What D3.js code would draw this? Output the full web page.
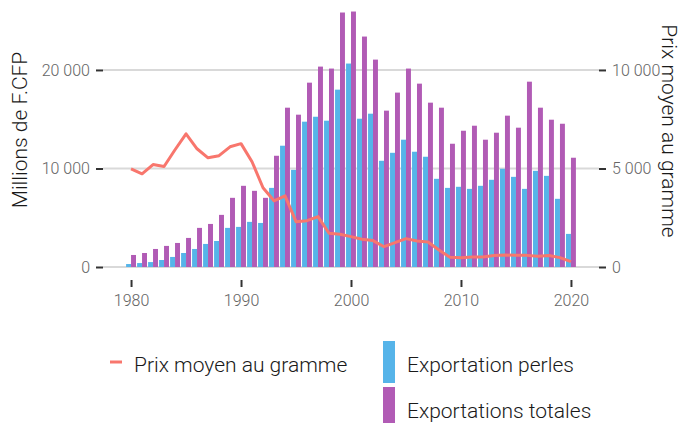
<!DOCTYPE html>
<html>
<head>
<meta charset="utf-8">
<script src="https://cdn.jsdelivr.net/npm/d3@7"></script>
<style>
  body { margin: 0; background: #fff; }
  svg { display: block; font-family: "Roboto Light", Roboto, "Open Sans", sans-serif; }
</style>
</head>
<body>
<svg id="chart" width="688" height="423"></svg>
<script>
// values
const years = d3.range(1980, 2021);
const perles = [300, 400, 500, 710, 1020, 1420, 1830, 2340, 2640, 3970,
  4070, 4580, 4470, 8030, 12310, 9860, 14750, 15250, 14850, 18000,
  20650, 15050, 15560, 10780, 11590, 12920, 11700, 11190, 8950, 8030,
  8140, 7930, 8240, 8850, 9970, 9150, 7930, 9760, 9250, 6920, 3360];
const totales = [1220, 1420, 1830, 2140, 2440, 2950, 3970, 4370, 5290, 7020,
  8240, 7730, 7020, 11290, 16170, 15460, 18710, 20340, 20140, 25830,
  25930, 23390, 21050, 15870, 17700, 20140, 18610, 16680, 16170, 12510,
  13830, 14340, 12920, 13630, 15360, 14140, 18810, 16170, 14950, 14540, 11090];
const prix = [4985, 4730, 5200, 5100, 5950, 6760, 6000, 5540, 5650, 6100,
  6260, 5340, 4020, 3360, 3610, 2300, 2350, 2560, 1710, 1660,
  1540, 1410, 1340, 1030, 1240, 1440, 1320, 1270, 860, 490,
  475, 510, 510, 580, 610, 590, 590, 540, 580, 475, 270];
const leftTicks = [0, 10000, 20000];
const rightTicks = [0, 5000, 10000];
const xTicks = [1980, 1990, 2000, 2010, 2020];

const cBlue = "#56B4E9", cPurple = "#B15BB5", cLine = "#F8766D";
const fmt = v => d3.format(",")(v).replace(/,/g, " ");

const svg = d3.select("#chart");
const panel = {left: 103, right: 599, top: 0, bottom: 280};

const x = d3.scaleLinear().domain([1977.45, 2022.55]).range([panel.left, panel.right]);
const yL = d3.scaleLinear().domain([-1320, 27100]).range([panel.bottom, panel.top]);
const yR = d3.scaleLinear().domain([-660, 13550]).range([panel.bottom, panel.top]);
const bw = 4.95;

// grid
svg.append("g")
  .selectAll("line")
  .data(leftTicks)
  .join("line")
  .attr("x1", panel.left).attr("x2", panel.right)
  .attr("y1", d => yL(d)).attr("y2", d => yL(d))
  .attr("stroke", "#d9d9d9").attr("stroke-width", 2);

// left axis
const axL = svg.append("g")
  .attr("transform", `translate(${panel.left},0)`)
  .call(d3.axisLeft(yL).tickValues(leftTicks).tickFormat(fmt).tickSize(7).tickPadding(6));
axL.select(".domain").remove();

// right axis
const axR = svg.append("g")
  .attr("transform", `translate(${panel.right},0)`)
  .call(d3.axisRight(yR).tickValues(rightTicks).tickFormat(fmt).tickSize(7).tickPadding(6));
axR.select(".domain").remove();

// bottom axis
const axB = svg.append("g")
  .attr("transform", `translate(0,${panel.bottom})`)
  .call(d3.axisBottom(x).tickValues(xTicks).tickFormat(d3.format("d")).tickSize(7).tickPadding(8));
axB.select(".domain").remove();

svg.selectAll(".tick line").attr("stroke", "#333").attr("stroke-width", 2);
svg.selectAll(".tick text")
  .attr("fill", "#666").style("font-size", "16px").style("font-weight", 300)
  .style("font-family", "'Roboto Light', Roboto, sans-serif");

// bars
svg.append("g")
  .attr("fill", cBlue)
  .selectAll("rect")
  .data(years)
  .join("rect")
  .attr("x", (d) => x(d) - bw)
  .attr("y", (d, i) => yL(perles[i]))
  .attr("width", bw)
  .attr("height", (d, i) => yL(0) - yL(perles[i]));

svg.append("g")
  .attr("fill", cPurple)
  .selectAll("rect")
  .data(years)
  .join("rect")
  .attr("x", (d) => x(d))
  .attr("y", (d, i) => yL(totales[i]))
  .attr("width", bw)
  .attr("height", (d, i) => yL(0) - yL(totales[i]));

// price line
const line = d3.line()
  .x((d) => x(d))
  .y((d, i) => yR(prix[i]));

svg.append("path")
  .datum(years)
  .attr("fill", "none")
  .attr("stroke", cLine)
  .attr("stroke-width", 3)
  .attr("stroke-linejoin", "round")
  .attr("d", line);

// axis titles
svg.append("text")
  .attr("transform", "translate(27,130) rotate(-90)")
  .attr("text-anchor", "middle")
  .attr("fill", "#1a1a1a")
  .style("font-size", "21px").style("font-weight", 300)
  .text("Millions de F.CFP");

svg.append("text")
  .attr("transform", "translate(662,131) rotate(90)")
  .attr("text-anchor", "middle")
  .attr("fill", "#1a1a1a")
  .style("font-size", "21px").style("font-weight", 300)
  .text("Prix moyen au gramme");

// legend
const lg = svg.append("g").style("font-size", "21px").style("font-weight", 300).attr("fill", "#1a1a1a");
lg.append("line")
  .attr("x1", 110).attr("x2", 122).attr("y1", 362).attr("y2", 362)
  .attr("stroke", cLine).attr("stroke-width", 3);
lg.append("text").attr("x", 134).attr("y", 372).text("Prix moyen au gramme");

lg.append("rect").attr("x", 383).attr("y", 341).attr("width", 12).attr("height", 42).attr("fill", cBlue);
lg.append("text").attr("x", 407).attr("y", 372).text("Exportation perles");

lg.append("rect").attr("x", 383).attr("y", 387).attr("width", 12).attr("height", 42).attr("fill", cPurple);
lg.append("text").attr("x", 407).attr("y", 418).text("Exportations totales");
</script>
</body>
</html>
